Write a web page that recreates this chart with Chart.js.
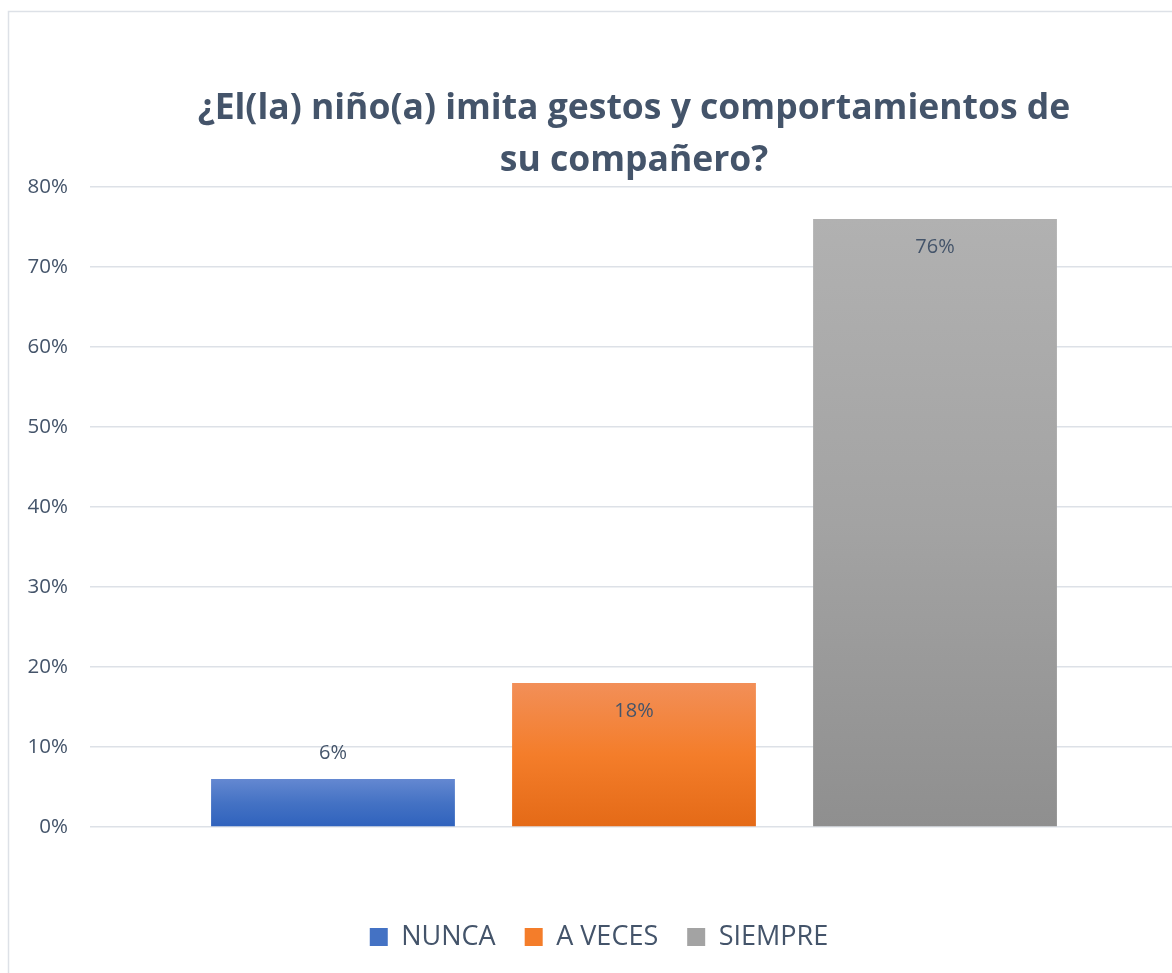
<!DOCTYPE html>
<html>
<head>
<meta charset="utf-8">
<script src="https://cdn.jsdelivr.net/npm/chart.js@4"></script>
<style>
  html, body { margin: 0; padding: 0; overflow: hidden; background: #ffffff; }
  #wrap { width: 1172px; height: 973px; overflow: hidden; position: relative; }
  canvas { display: block; }
</style>
</head>
<body>
<div id="wrap"><canvas id="c" width="1198" height="982"></canvas></div>
<script>
// ---- data ----
const titleLines = ["¿El(la) niño(a) imita gestos y comportamientos de", "su compañero?"];
const categories = [""];
const seriesNames = ["NUNCA", "A VECES", "SIEMPRE"];
const nuncaValues = [6];
const aVecesValues = [18];
const siempreValues = [76];
const yTickValues = [0, 10, 20, 30, 40, 50, 60, 70, 80];

// ---- style ----
const textColor = '#44546a';
const gridColor = '#dde1e7';
const gradients = [
  ['#6488d1', '#4472c4', '#2f62bd'],
  ['#f28f58', '#f47d2a', '#e46a17'],
  ['#b1b1b1', '#a3a3a3', '#8f8f8f']
];
const fontFamily = '"Open Sans", "Noto Sans", sans-serif';

function barFill(idx) {
  return function (c) {
    const stops = gradients[idx];
    const chart = c.chart;
    if (c.raw === undefined || !chart.scales || !chart.scales.y) return stops[1];
    const y = chart.scales.y;
    const top = y.getPixelForValue(c.raw);
    const base = y.getPixelForValue(0);
    if (!isFinite(top) || !isFinite(base) || top === base) return stops[1];
    const g = chart.ctx.createLinearGradient(0, top, 0, base);
    g.addColorStop(0, stops[0]);
    g.addColorStop(0.5, stops[1]);
    g.addColorStop(1, stops[2]);
    return g;
  };
}

const frame = {
  id: 'frame',
  beforeDraw(chart) {
    const ctx = chart.ctx;
    ctx.save();
    ctx.fillStyle = '#ffffff';
    ctx.fillRect(0, 0, chart.width, chart.height);
    ctx.strokeStyle = '#dde1e7';
    ctx.lineWidth = 1.5;
    ctx.strokeRect(8.5, 11.5, 1182, 1000);
    ctx.restore();
  }
};

const valueLabels = {
  id: 'valueLabels',
  afterDatasetsDraw(chart) {
    const ctx = chart.ctx;
    ctx.save();
    ctx.font = '20px ' + fontFamily;
    ctx.fillStyle = textColor;
    ctx.textAlign = 'center';
    ctx.textBaseline = 'middle';
    chart.data.datasets.forEach((ds, i) => {
      const meta = chart.getDatasetMeta(i);
      meta.data.forEach((bar, j) => {
        const v = ds.data[j];
        const y = v < 10 ? bar.y - 26 : bar.y + 28;
        ctx.fillText(v + '%', bar.x, y);
      });
    });
    ctx.restore();
  }
};

const seriesData = [nuncaValues, aVecesValues, siempreValues];

new Chart(document.getElementById('c'), {
  type: 'bar',
  data: {
    labels: categories,
    datasets: seriesNames.map((name, i) => ({
      label: name,
      data: seriesData[i],
      backgroundColor: barFill(i),
      borderWidth: 0,
      categoryPercentage: 0.83,
      barPercentage: 0.81
    }))
  },
  options: {
    responsive: false,
    animation: false,
    devicePixelRatio: 1,
    layout: { padding: { left: 20, right: 20, top: 0, bottom: 21.5 } },
    plugins: {
      title: {
        display: true,
        text: titleLines,
        fullSize: false,
        color: textColor,
        font: { family: fontFamily, size: 35.5, weight: 'bold', lineHeight: '52px' },
        padding: { top: 82.5, bottom: 0.5 }
      },
      legend: {
        position: 'bottom',
        labels: {
          color: textColor,
          font: { family: fontFamily, size: 27 },
          boxWidth: 18,
          boxHeight: 18,
          padding: 29,
          generateLabels(chart) {
            return chart.data.datasets.map((ds, i) => ({
              text: ds.label,
              fillStyle: gradients[i][1],
              strokeStyle: gradients[i][1],
              lineWidth: 0,
              fontColor: textColor,
              datasetIndex: i,
              hidden: false
            }));
          }
        }
      },
      tooltip: { enabled: false }
    },
    scales: {
      x: {
        display: true,
        grid: { display: false },
        border: { display: false },
        ticks: { display: false },
        afterFit(scale) { scale.height = 67.5; }
      },
      y: {
        min: 0,
        max: 80,
        afterBuildTicks(scale) { scale.ticks = yTickValues.map(v => ({ value: v })); },
        afterFit(scale) { scale.width = 70; },
        ticks: {
          color: textColor,
          font: { family: fontFamily, size: 20.5 },
          padding: 22,
          callback: v => v + '%'
        },
        grid: { color: gridColor, lineWidth: 1.5, drawTicks: false },
        border: { display: false }
      }
    }
  },
  plugins: [frame, valueLabels]
});
</script>
</body>
</html>
